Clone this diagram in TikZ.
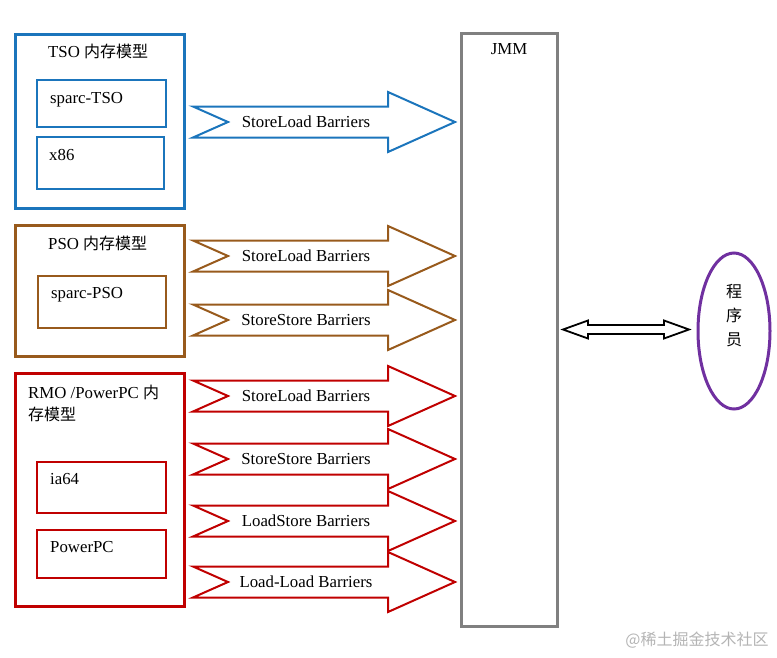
\documentclass[tikz,border=0pt]{standalone}
\usepackage{fontspec}
\setmainfont{Liberation Serif}
\newfontfamily\cjk{Noto Sans CJK SC}
\usepackage{tikz}
\definecolor{tsoblue}{HTML}{1B75BC}
\definecolor{psobrown}{HTML}{985A1C}
\definecolor{rmored}{HTML}{C00000}
\definecolor{jmmgray}{HTML}{808080}
\definecolor{progpurple}{HTML}{7030A0}
\definecolor{markgray}{HTML}{B4B4B4}
\newcommand{\zh}[1]{{\cjk\fontsize{16}{19}\selectfont #1}}
\tikzset{
  outerbox/.style={line width=3pt},
  innerbox/.style={line width=2pt},
  lbl/.style={anchor=base west,inner sep=0pt,font=\fontsize{16.8}{19}\selectfont},
  bartext/.style={inner sep=0pt,font=\fontsize{16.8}{19}\selectfont},
}
% notched arrow: name, y centre, colour, text
\newcommand{\barrier}[4]{%
  \draw[#3,line width=2pt,line join=miter]
    (193,#2-15.5) -- (388,#2-15.5) -- (388,#2-30) -- (455,#2)
    -- (388,#2+30) -- (388,#2+15.5) -- (193,#2+15.5) -- (228,#2) -- cycle;
  \node[bartext] (#1) at (306,#2) {#4};}
\begin{document}
\begin{tikzpicture}[x=1pt,y=-1pt]
  \useasboundingbox (0,0) rectangle (777,657);
  % TSO
  \draw[tsoblue,outerbox] (15,34) rectangle (184,208);
  \node[lbl] (tso) at (48,57) {TSO \zh{内存模型}};
  \draw[tsoblue,innerbox] (37,80) rectangle (166,127);
  \node[lbl] (sparctso) at (50,103) {sparc-TSO};
  \draw[tsoblue,innerbox] (37,137) rectangle (164,189);
  \node[lbl] (xeightsix) at (49,160) {x86};
  % PSO
  \draw[psobrown,outerbox] (15,225) rectangle (184,356);
  \node[lbl] (pso) at (48,249) {PSO \zh{内存模型}};
  \draw[psobrown,innerbox] (38,276) rectangle (166,328);
  \node[lbl] (sparcpso) at (51,298) {sparc-PSO};
  % RMO
  \draw[rmored,outerbox] (15,373) rectangle (184,606);
  \node[lbl] (rmo) at (28,398) {RMO /PowerPC \zh{内}};
  \node[lbl] (rmob) at (28,420) {\zh{存模型}};
  \draw[rmored,innerbox] (37,462) rectangle (166,513);
  \node[lbl] (iasixfour) at (50,484) {ia64};
  \draw[rmored,innerbox] (37,530) rectangle (166,578);
  \node[lbl] (powerpc) at (50,552) {PowerPC};
  % barriers
  \barrier{tsosl}{122}{tsoblue}{StoreLoad Barriers}
  \barrier{psosl}{256}{psobrown}{StoreLoad Barriers}
  \barrier{psoss}{320}{psobrown}{StoreStore Barriers}
  \barrier{rmosl}{396}{rmored}{StoreLoad Barriers}
  \barrier{rmoss}{459}{rmored}{StoreStore Barriers}
  \barrier{rmols}{521}{rmored}{LoadStore Barriers}
  \barrier{rmoll}{582}{rmored}{Load-Load Barriers}
  % JMM
  \draw[jmmgray,outerbox] (461,33) rectangle (557,626);
  \node[bartext] (jmm) at (509,49) {JMM};
  % programmer
  \draw[progpurple,outerbox] (734,331) ellipse (36 and 78);
  \node[inner sep=0pt,align=center,font=\cjk\fontsize{16}{24}\selectfont] (prog) at (734,316) {程\\序\\员};
  \draw[black,line width=1.8pt,line join=miter]
    (563,329.5) -- (588,320.5) -- (588,325) -- (664,325) -- (664,320.5) -- (689,329.5)
    -- (664,338.5) -- (664,334) -- (588,334) -- (588,338.5) -- cycle;
  % watermark
  \node[inner sep=0pt,text=markgray,font=\cjk\fontsize{16}{19}\selectfont] (mark) at (697,640) {@稀土掘金技术社区};
\end{tikzpicture}
\end{document}
